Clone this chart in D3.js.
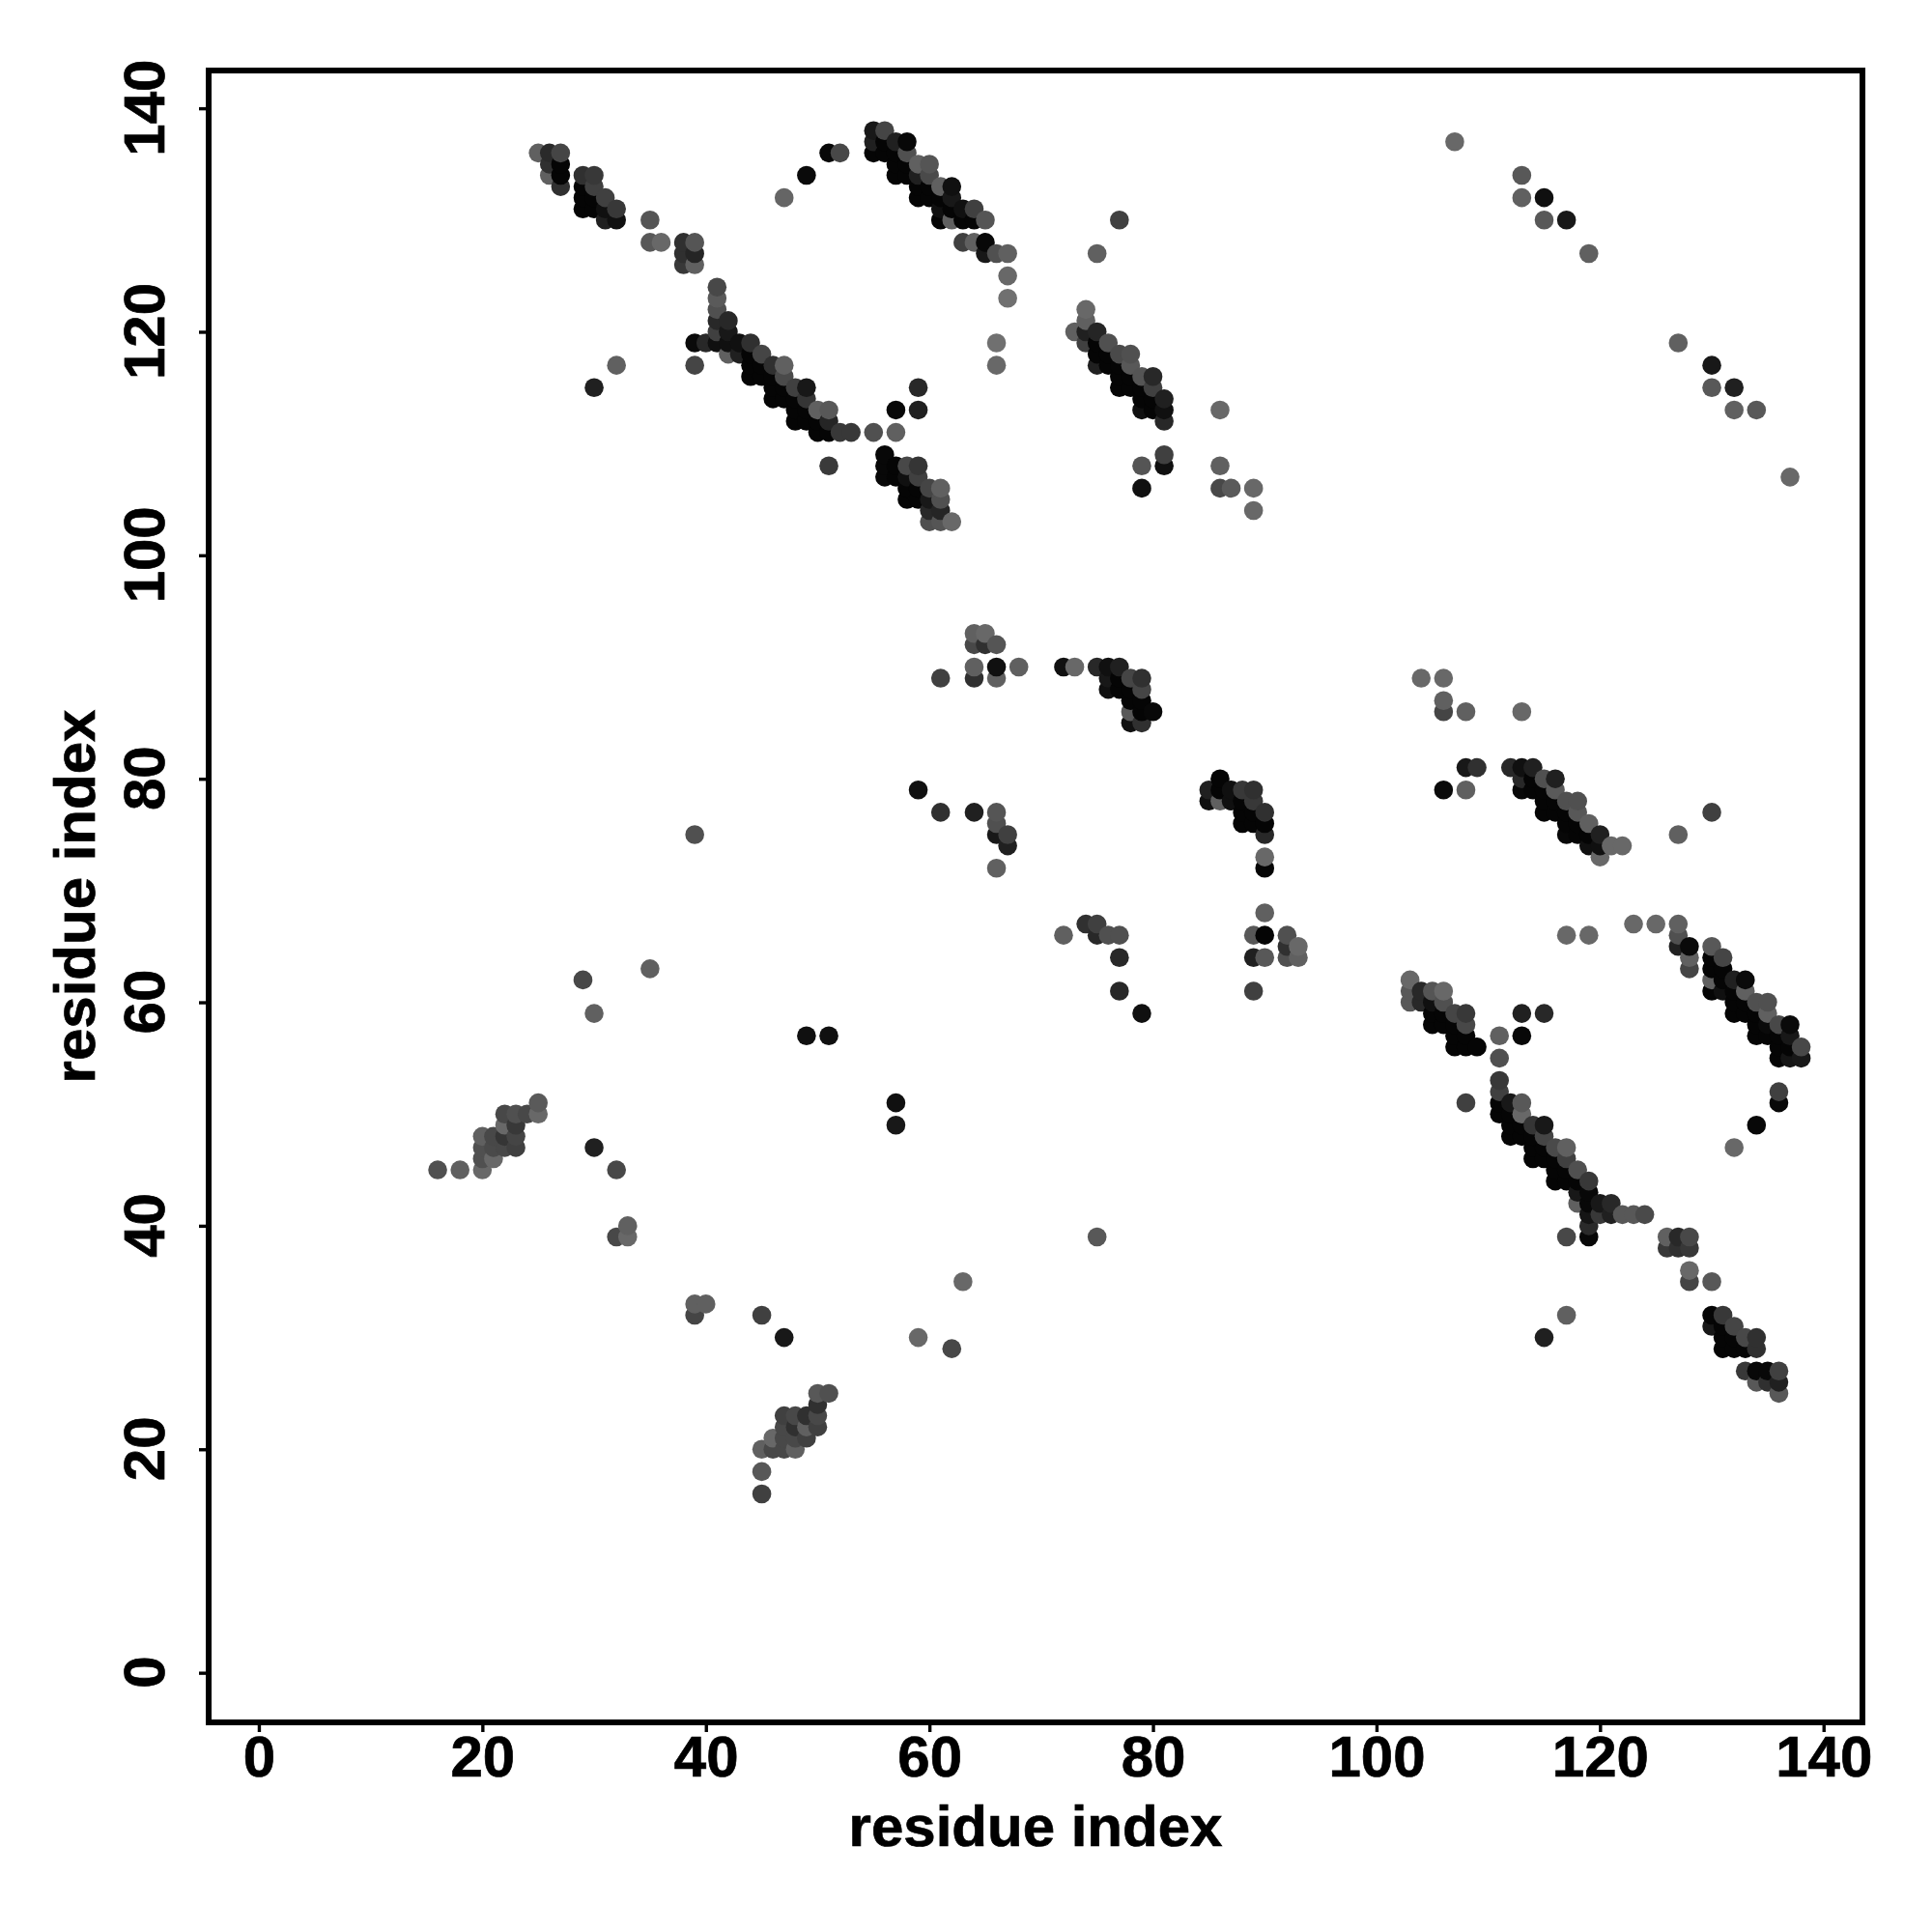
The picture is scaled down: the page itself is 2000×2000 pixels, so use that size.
<!DOCTYPE html>
<html><head><meta charset="utf-8">
<script src="https://cdn.jsdelivr.net/npm/d3@7/dist/d3.min.js"></script>
<style>html,body{margin:0;background:#fff}svg{display:block}text{font-family:"Liberation Sans",Arial,sans-serif;font-weight:bold;fill:#000;stroke:#000;stroke-width:0.7px}</style>
</head><body><svg id="c" width="2000" height="2000"></svg>
<script>
// each entry: [residue i, residue j, gray level]
const blockA=[[25,136,0x60],[26,136,0x2a],[27,136,0x45],[26,135,0x30],[27,135,0x05],[26,134,0x60],[27,134,0x05],[27,133,0x30],
[29,134,0x30],[30,134,0x38],[29,133,0x05],[30,133,0x40],[29,132,0x05],[30,132,0x05],[31,132,0x40],[29,131,0x05],[30,131,0x05],[31,131,0x10],[32,131,0x38],[31,130,0x20],[32,130,0x10],
[35,130,0x55],[35,128,0x58],[36,128,0x68],[38,128,0x30],[39,128,0x55],[38,127,0x30],[39,127,0x25],[38,126,0x38],[39,126,0x60]];
const blockB=[[41,124,0x48],[41,123,0x5a],[41,122,0x50],[41,121,0x28],[42,121,0x28],[41,120,0x40],[42,120,0x18],[39,119,0x0a],[40,119,0x28],[41,119,0x10],[42,119,0x10],[43,119,0x10],[44,119,0x30],[45,118,0x45],[42,118,0x60],[43,118,0x20],[44,118,0x05],
[44,117,0x05],[45,117,0x05],[46,117,0x30],[47,117,0x60],[44,116,0x05],[45,116,0x05],[46,116,0x05],[47,116,0x4a],[48,115,0x40],[49,115,0x18],[46,115,0x05],[47,115,0x05],[46,114,0x05],[47,114,0x05],[48,114,0x05],[49,114,0x35],[48,113,0x05],[49,113,0x05],[50,113,0x60],[51,113,0x58],[48,112,0x05],[49,112,0x05],[50,112,0x05],[51,112,0x25],[50,111,0x05],[51,111,0x05],[52,111,0x38],[53,111,0x38],[55,111,0x50],[57,111,0x60],[57,113,0x08],[59,113,0x20],[59,115,0x28],[51,108,0x3a]];
const blockC=[[56,109,0x08],[56,108,0x08],[57,108,0x05],[58,108,0x48],[59,108,0x35],[56,107,0x08],[57,107,0x05],[58,107,0x10],[59,107,0x40],[58,106,0x05],[59,106,0x05],[60,106,0x45],[61,106,0x60],[58,105,0x05],[59,105,0x05],[60,105,0x18],[61,105,0x50],[60,104,0x28],[61,104,0x25],[60,103,0x50],[61,103,0x55],[62,103,0x68],
[32,117,0x60],[30,115,0x20],[39,117,0x45],[51,136,0x08],[52,136,0x48],[49,134,0x0a],[47,132,0x65]];
const blockD=[[55,138,0x18],[56,138,0x45],[55,137,0x20],[56,137,0x05],[57,137,0x20],[58,137,0x08],[55,136,0x05],[56,136,0x05],[57,136,0x05],[58,136,0x50],[57,135,0x05],[58,135,0x05],[59,135,0x60],[60,135,0x55],[57,134,0x05],[58,134,0x05],[59,134,0x20],[60,134,0x4a],[59,133,0x05],[60,133,0x05],[61,133,0x60],[62,133,0x10],[59,132,0x05],[60,132,0x05],[61,132,0x05],[62,132,0x18],[61,131,0x10],[62,131,0x05],[63,131,0x10],[64,131,0x40],[61,130,0x05],[62,130,0x60],[63,130,0x05],[64,130,0x05],[65,130,0x55],
[63,128,0x40],[64,128,0x60],[65,128,0x08],[65,127,0x18],[66,127,0x50],[67,127,0x60],[67,125,0x68],[67,123,0x70],[66,119,0x70],[66,117,0x68]];
const blockE=[[107,137,0x68],[113,134,0x58],[113,132,0x60],[115,132,0x10],[115,130,0x58],[117,130,0x18],[119,127,0x60],[127,119,0x60],[130,117,0x18],[130,115,0x58],[132,115,0x20],[132,113,0x60],[134,113,0x58],[137,107,0x68],[77,130,0x40],[75,127,0x60]];
const blockF=[[74,122,0x68],[74,121,0x60],[73,120,0x60],[74,120,0x20],[75,120,0x25],[74,119,0x40],[75,119,0x05],[76,119,0x50],[75,117,0x20],[75,118,0x05],[76,118,0x05],[77,118,0x4a],[78,118,0x50],[76,117,0x05],[77,117,0x05],[78,117,0x58],[77,116,0x05],[78,116,0x05],[79,116,0x55],[80,116,0x28],[77,115,0x05],[78,115,0x05],[79,115,0x05],[80,115,0x40],[79,114,0x05],[80,114,0x05],[81,114,0x20],[79,113,0x10],[80,113,0x05],[81,113,0x10],[81,112,0x28],[81,109,0x40],[81,108,0x10],[79,108,0x55],[79,106,0x10],[86,113,0x68],[86,108,0x60],[86,106,0x48],[87,106,0x5a],[89,106,0x68],[89,104,0x68]];
const blockG=[[64,93,0x60],[65,93,0x68],[64,92,0x48],[65,92,0x30],[66,92,0x55],[64,90,0x60],[66,90,0x10],[68,90,0x60],[64,89,0x30],[66,89,0x60],[61,89,0x40],
[72,90,0x10],[73,90,0x68],[75,90,0x28],[76,90,0x10],[77,90,0x20],[76,89,0x18],[77,89,0x05],[78,89,0x45],[79,89,0x30],[76,88,0x10],[77,88,0x05],[78,88,0x05],[79,88,0x45],[78,87,0x05],[79,87,0x05],[78,86,0x58],[79,86,0x05],[80,86,0x08],[78,85,0x10],[79,85,0x30]];
const blockH=[[104,89,0x68],[106,89,0x68],[106,87,0x60],[106,86,0x45],[108,86,0x60],[113,86,0x68],[108,81,0x18],[109,81,0x30],[106,79,0x0a],[108,79,0x60],
[112,81,0x28],[113,81,0x10],[114,81,0x20],[113,80,0x28],[114,80,0x05],[115,80,0x50],[116,80,0x20],[113,79,0x08],[114,79,0x05],[115,79,0x05],[116,79,0x5a],[115,78,0x05],[116,78,0x05],[117,78,0x50],[118,78,0x50],[115,77,0x05],[116,77,0x05],[117,77,0x05],[118,77,0x58],[117,76,0x05],[118,76,0x05],[119,76,0x60],[117,75,0x08],[118,75,0x05],[119,75,0x05],[120,75,0x20],[119,74,0x10],[120,74,0x10],[121,74,0x68],[122,74,0x68],[120,73,0x68],[127,75,0x60],[130,77,0x40]];
const blockI=[[86,80,0x05],[85,79,0x20],[86,79,0x05],[87,79,0x10],[88,79,0x38],[89,79,0x30],[85,78,0x10],[86,78,0x60],[87,78,0x10],[88,78,0x05],[89,78,0x38],[88,77,0x05],[89,77,0x05],[90,77,0x30],[88,76,0x05],[89,76,0x05],[90,76,0x05],[90,75,0x28],[90,73,0x68],[90,72,0x05],
[64,77,0x20],[66,77,0x55],[61,77,0x30],[66,76,0x50],[66,75,0x18],[67,75,0x40],[67,74,0x20],[66,72,0x60],[59,79,0x10],[39,75,0x50]];
const blockJ=[[90,68,0x60],[89,66,0x58],[90,66,0x05],[92,66,0x50],[92,65,0x30],[93,65,0x68],[89,64,0x20],[90,64,0x58],[92,64,0x50],[93,64,0x60],[89,61,0x40],[72,66,0x60],[74,67,0x30],[75,67,0x40],[75,66,0x28],[76,66,0x50],[77,66,0x50],[77,64,0x28],[77,61,0x28],[79,59,0x10]];
const blockK=[[103,62,0x68],[103,61,0x58],[103,60,0x58],[104,61,0x28],[104,60,0x28],[105,61,0x55],[106,61,0x68],[105,60,0x10],[106,60,0x50],[105,59,0x05],[106,59,0x05],[107,59,0x45],[108,59,0x38],[105,58,0x05],[106,58,0x05],[107,58,0x05],[108,58,0x48],[107,57,0x05],[108,57,0x05],[107,56,0x05],[108,56,0x05],[109,56,0x05],[111,57,0x60],[113,57,0x08],[113,59,0x20],[115,59,0x28],[111,55,0x50]];
const blockL=[[111,53,0x38],[111,52,0x40],[111,51,0x05],[112,51,0x18],[113,51,0x58],[111,50,0x05],[112,50,0x05],[113,50,0x68],[112,49,0x05],[113,49,0x05],[114,49,0x35],[115,49,0x18],[112,48,0x05],[113,48,0x05],[114,48,0x05],[115,48,0x45],[114,47,0x05],[115,47,0x05],[116,47,0x4a],[117,47,0x60],[114,46,0x05],[115,46,0x05],[116,46,0x05],[117,46,0x40],[116,45,0x05],[117,45,0x05],[118,45,0x50],[116,44,0x05],[117,44,0x05],[118,44,0x05],[119,44,0x38],[118,43,0x18],[119,43,0x08],[118,42,0x60],[119,42,0x08],[120,42,0x18],[121,42,0x28],[119,41,0x15],[120,41,0x38],[121,41,0x20],[122,41,0x58],[123,41,0x58],[124,41,0x4a],[119,40,0x2a],[119,39,0x08],[117,39,0x48],[108,51,0x40],[117,32,0x60],[115,30,0x20]];
const blockM=[[126,39,0x60],[127,39,0x28],[128,39,0x48],[126,38,0x38],[127,38,0x30],[128,38,0x38],[128,36,0x68],[128,35,0x45],[130,35,0x58],[130,32,0x05],[131,32,0x38],[130,31,0x18],[131,31,0x05],[132,31,0x45],[131,30,0x05],[132,30,0x05],[133,30,0x48],[134,30,0x30],[131,29,0x05],[132,29,0x05],[133,29,0x05],[134,29,0x30],[133,27,0x38],[134,27,0x08],[135,27,0x08],[136,27,0x40],[134,26,0x58],[135,26,0x30],[136,26,0x20],[136,25,0x58]];
const blockN=[[117,66,0x68],[119,66,0x68],[123,67,0x68],[125,67,0x68],[127,67,0x60],[127,66,0x50],[127,65,0x20],[128,65,0x0a],[128,64,0x60],[128,63,0x45],[130,65,0x58],[130,64,0x05],[131,64,0x45],[130,63,0x05],[131,63,0x05],[130,62,0x60],[131,62,0x05],[132,62,0x20],[133,62,0x0a],[130,61,0x05],[131,61,0x10],[132,61,0x05],[133,61,0x60],[132,60,0x05],[133,60,0x05],[134,60,0x50],[135,60,0x50],[132,59,0x05],[133,59,0x05],[134,59,0x05],[135,59,0x60],[134,58,0x05],[135,58,0x0a],[136,58,0x48],[137,58,0x0a],[134,57,0x05],[135,57,0x05],[136,57,0x05],[137,57,0x18],[136,56,0x05],[137,56,0x05],[138,56,0x48],[136,55,0x05],[137,55,0x15],[138,55,0x18],[136,52,0x40],[136,51,0x08],[134,49,0x08],[132,47,0x68]];
const blockO=[[16,45,0x50],[18,45,0x60],[20,45,0x68],[20,46,0x50],[21,46,0x68],[20,47,0x50],[21,47,0x4a],[22,47,0x48],[23,47,0x40],[20,48,0x60],[21,48,0x48],[22,48,0x35],[23,48,0x45],[22,49,0x68],[23,49,0x38],[22,50,0x48],[23,50,0x50],[24,50,0x48],[25,50,0x68],[25,51,0x5a],[30,47,0x20],[32,45,0x48],[33,40,0x60],[32,39,0x48],[33,39,0x68]];
const blockP=[[29,62,0x48],[30,59,0x60],[35,63,0x60],[39,33,0x60],[40,33,0x60],[39,32,0x45],[45,32,0x40],[47,30,0x18],[59,30,0x68],[62,29,0x48],[63,35,0x68],[75,39,0x58],[49,57,0x10],[51,57,0x10],[57,51,0x10],[57,49,0x18]];
const blockQ=[[45,16,0x40],[45,18,0x58],[45,20,0x60],[46,20,0x48],[47,20,0x48],[48,20,0x60],[46,21,0x68],[47,21,0x48],[48,21,0x48],[49,21,0x40],[47,22,0x48],[48,22,0x30],[49,22,0x60],[50,22,0x40],[47,23,0x40],[48,23,0x48],[49,23,0x30],[50,23,0x48],[50,24,0x30],[50,25,0x58],[51,25,0x50]];
const ticks=[0,20,40,60,80,100,120,140];
const axisTitle="residue index";

const points=[blockA,blockB,blockC,blockD,blockE,blockF,blockG,blockH,blockI,blockJ,blockK,blockL,blockM,blockN,blockO,blockP,blockQ].flat()
  .sort((a,b)=>d3.ascending(a[0],b[0])||d3.ascending(a[1],b[1]));

const box={l:216,r:1928,t:73,b:1783};
const x=d3.scaleLinear().domain([-4.49,143.48]).range([box.l,box.r]);
const y=d3.scaleLinear().domain([-4.44,143.38]).range([box.b,box.t]);
const svg=d3.select("#c");

svg.append("g").selectAll("circle").data(points).join("circle")
  .attr("cx",d=>x(d[0])).attr("cy",d=>y(d[1])).attr("r",9.8)
  .attr("fill",d=>d3.rgb(d[2],d[2],d[2]));

svg.append("rect").attr("x",box.l).attr("y",box.t).attr("width",box.r-box.l).attr("height",box.b-box.t)
  .attr("fill","none").attr("stroke","#000").attr("stroke-width",6);

const ax=svg.append("g").attr("transform",`translate(0,${box.b})`)
  .call(d3.axisBottom(x).tickValues(ticks).tickSize(10).tickPadding(0));
ax.select(".domain").remove();
ax.selectAll("line").attr("stroke-width",3.4);
ax.selectAll("text").attr("y",0).attr("dy",0).attr("transform","translate(0,56)")
  .attr("text-anchor","middle").style("font-size","60px");

const ay=svg.append("g").attr("transform",`translate(${box.l},0)`)
  .call(d3.axisLeft(y).tickValues(ticks).tickSize(10).tickPadding(0));
ay.select(".domain").remove();
ay.selectAll("line").attr("stroke-width",3.4);
ay.selectAll("text").attr("x",0).attr("dy",0).attr("y",0)
  .attr("transform","translate(-46,-1) rotate(-90)")
  .attr("text-anchor","middle").style("font-size","60px");

svg.append("text").attr("x",(box.l+box.r)/2).attr("y",1911).attr("text-anchor","middle")
  .style("font-size","60px").text(axisTitle);
svg.append("text").attr("transform",`translate(98,${(box.t+box.b)/2}) rotate(-90)`).attr("text-anchor","middle")
  .style("font-size","60px").text(axisTitle);
</script></body></html>
